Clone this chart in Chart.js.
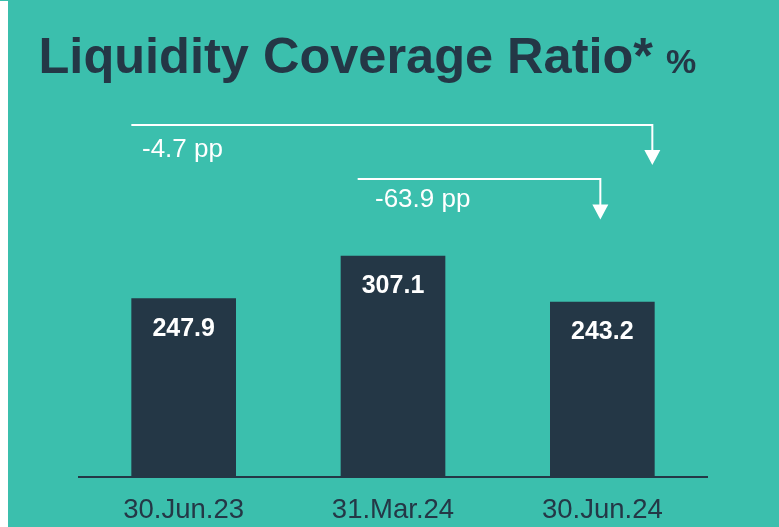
<!DOCTYPE html>
<html>
<head>
<meta charset="utf-8">
<script src="https://cdn.jsdelivr.net/npm/chart.js@4"></script>
<style>
  html, body { margin: 0; padding: 0; background: #3BBFAD; }
  #wrap { position: relative; width: 779px; height: 527px; overflow: hidden; }
  #strip { position: absolute; left: 0; top: 1px; width: 8px; height: 526px; background: #ffffff; }
  canvas { position: absolute; left: 0; top: 0; }
</style>
</head>
<body>
<div id="wrap">
  <canvas id="c" width="779" height="527"></canvas>
  <div id="strip"></div>
</div>
<script>
const categories = ['30.Jun.23', '31.Mar.24', '30.Jun.24'];
const lcrValues = [247.9, 307.1, 243.2];
const valueLabels = ['247.9', '307.1', '243.2'];
const changeLabels = ['-4.7 pp', '-63.9 pp'];
const titleText = 'Liquidity Coverage Ratio*';
const unitText = '%';

const TEAL = '#3BBFAD';
const NAVY = '#243746';
const FONT = '"Liberation Sans", Arial, Helvetica, sans-serif';

function arrowDown(ctx, x, tipY) {
  ctx.beginPath();
  ctx.moveTo(x - 8, tipY - 15);
  ctx.lineTo(x + 8, tipY - 15);
  ctx.lineTo(x, tipY);
  ctx.closePath();
  ctx.fill();
}

const overlay = {
  id: 'overlay',
  afterDatasetsDraw(chart) {
    const ctx = chart.ctx;
    const meta = chart.getDatasetMeta(0);
    ctx.save();
    ctx.fillStyle = '#ffffff';
    ctx.font = 'bold 25px ' + FONT;
    ctx.textAlign = 'center';
    ctx.textBaseline = 'alphabetic';
    meta.data.forEach((bar, i) => {
      ctx.fillText(valueLabels[i], bar.x, bar.y + 37.5);
    });
    ctx.fillStyle = NAVY;
    ctx.textAlign = 'left';
    ctx.font = 'bold 50.5px ' + FONT;
    ctx.fillText(titleText, 38.5, 73);
    ctx.font = 'bold 34px ' + FONT;
    ctx.fillText(unitText, 666, 73);
    const b0 = meta.data[0], b1 = meta.data[1], b2 = meta.data[2];
    const w = b0.width;
    ctx.strokeStyle = '#ffffff';
    ctx.fillStyle = '#ffffff';
    ctx.lineWidth = 2;
    const l1x0 = b0.x - w / 2, l1x1 = b2.x + 50, l1y = 125, tip1 = 165;
    ctx.beginPath();
    ctx.moveTo(l1x0, l1y);
    ctx.lineTo(l1x1, l1y);
    ctx.lineTo(l1x1, tip1 - 12);
    ctx.stroke();
    arrowDown(ctx, l1x1, tip1);
    const l2x0 = b1.x - w / 2 + 17, l2x1 = b2.x - 2, l2y = 179, tip2 = 219.5;
    ctx.beginPath();
    ctx.moveTo(l2x0, l2y);
    ctx.lineTo(l2x1, l2y);
    ctx.lineTo(l2x1, tip2 - 12);
    ctx.stroke();
    arrowDown(ctx, l2x1, tip2);
    ctx.font = '26px ' + FONT;
    ctx.fillText(changeLabels[0], 142, 156.7);
    ctx.fillText(changeLabels[1], 375, 207.3);
    ctx.restore();
  }
};

new Chart(document.getElementById('c'), {
  type: 'bar',
  data: {
    labels: categories,
    datasets: [{
      data: lcrValues,
      backgroundColor: NAVY,
      borderWidth: 0,
      categoryPercentage: 1.0,
      barPercentage: 0.5
    }]
  },
  options: {
    responsive: false,
    animation: false,
    events: [],
    layout: { padding: { top: 189, left: 79, right: 72, bottom: -17.5 } },
    plugins: { legend: { display: false }, tooltip: { enabled: false }, title: { display: false } },
    scales: {
      y: { display: false, min: 0, max: 400 },
      x: {
        grid: { display: false, drawTicks: false },
        border: { display: true, color: NAVY, width: 2 },
        ticks: {
          color: NAVY,
          padding: 17.5,
          font: { family: FONT, size: 27.5, lineHeight: 1.2 }
        }
      }
    }
  },
  plugins: [overlay]
});
</script>
</body>
</html>
